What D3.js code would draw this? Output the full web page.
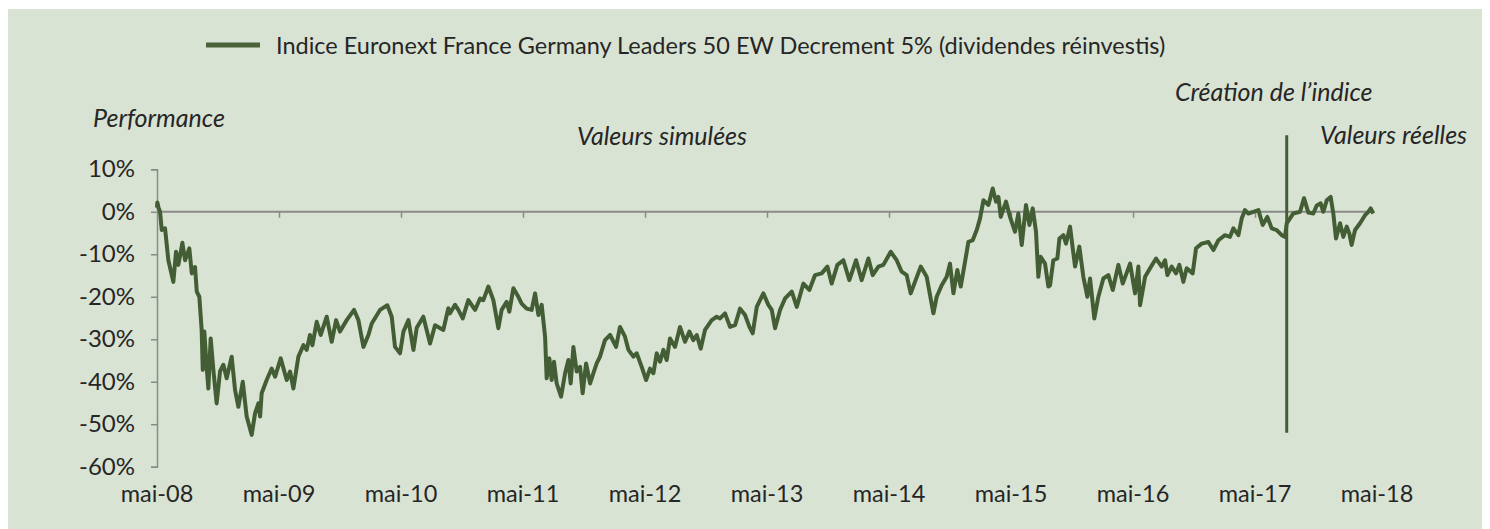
<!DOCTYPE html>
<html>
<head>
<meta charset="utf-8">
<script src="https://cdn.jsdelivr.net/npm/d3@7"></script>
<style>
  body { margin: 0; background: #ffffff; }
  svg { display: block; }
</style>
</head>
<body>
<svg id="perfSvg" width="1490" height="529"></svg>
<script>
// dates as decimal years, values in % performance
var years = [
  2008.333, 2008.336, 2008.345, 2008.358, 2008.372, 2008.399, 2008.426, 2008.467, 2008.489, 2008.508,
  2008.541, 2008.563, 2008.598, 2008.618, 2008.645, 2008.659, 2008.680, 2008.699, 2008.708, 2008.721,
  2008.740, 2008.754, 2008.773, 2008.795, 2008.822, 2008.850, 2008.877, 2008.904, 2008.945, 2008.973,
  2009.000, 2009.036, 2009.068, 2009.109, 2009.137, 2009.164, 2009.178, 2009.191, 2009.232, 2009.273,
  2009.301, 2009.347, 2009.396, 2009.424, 2009.451, 2009.492, 2009.533, 2009.560, 2009.587, 2009.607,
  2009.642, 2009.675, 2009.724, 2009.765, 2009.801, 2009.833, 2009.888, 2009.948, 2009.984, 2010.025,
  2010.066, 2010.093, 2010.161, 2010.221, 2010.257, 2010.284, 2010.325, 2010.353, 2010.394, 2010.435,
  2010.462, 2010.516, 2010.571, 2010.612, 2010.680, 2010.721, 2010.735, 2010.776, 2010.803, 2010.839,
  2010.885, 2010.940, 2010.981, 2011.008, 2011.049, 2011.090, 2011.131, 2011.158, 2011.199, 2011.221,
  2011.254, 2011.295, 2011.322, 2011.363, 2011.404, 2011.432, 2011.459, 2011.486, 2011.514, 2011.527,
  2011.549, 2011.568, 2011.587, 2011.609, 2011.645, 2011.678, 2011.705, 2011.724, 2011.746, 2011.773,
  2011.801, 2011.822, 2011.850, 2011.883, 2011.910, 2011.937, 2011.964, 2012.005, 2012.047, 2012.096,
  2012.128, 2012.169, 2012.197, 2012.238, 2012.265, 2012.306, 2012.342, 2012.374, 2012.402, 2012.429,
  2012.456, 2012.484, 2012.511, 2012.538, 2012.579, 2012.620, 2012.661, 2012.697, 2012.729, 2012.757,
  2012.790, 2012.825, 2012.880, 2012.921, 2012.948, 2012.989, 2013.030, 2013.071, 2013.112, 2013.153,
  2013.189, 2013.216, 2013.249, 2013.303, 2013.344, 2013.372, 2013.399, 2013.440, 2013.481, 2013.536,
  2013.577, 2013.631, 2013.680, 2013.727, 2013.781, 2013.828, 2013.863, 2013.910, 2013.959, 2014.008,
  2014.063, 2014.109, 2014.164, 2014.199, 2014.246, 2014.287, 2014.347, 2014.396, 2014.437, 2014.478,
  2014.511, 2014.546, 2014.593, 2014.642, 2014.697, 2014.724, 2014.765, 2014.806, 2014.833, 2014.861,
  2014.893, 2014.921, 2014.956, 2014.984, 2015.019, 2015.052, 2015.079, 2015.107, 2015.148, 2015.183,
  2015.210, 2015.230, 2015.249, 2015.292, 2015.325, 2015.366, 2015.393, 2015.421, 2015.456, 2015.484,
  2015.511, 2015.538, 2015.557, 2015.576, 2015.612, 2015.639, 2015.653, 2015.680, 2015.713, 2015.730,
  2015.762, 2015.784, 2015.817, 2015.858, 2015.893, 2015.926, 2015.959, 2015.981, 2016.016, 2016.049,
  2016.090, 2016.131, 2016.167, 2016.213, 2016.249, 2016.309, 2016.350, 2016.377, 2016.391, 2016.432,
  2016.473, 2016.522, 2016.568, 2016.596, 2016.615, 2016.650, 2016.686, 2016.713, 2016.746, 2016.773,
  2016.822, 2016.850, 2016.896, 2016.951, 2016.992, 2017.033, 2017.087, 2017.128, 2017.156, 2017.197,
  2017.224, 2017.251, 2017.279, 2017.320, 2017.361, 2017.396, 2017.434, 2017.470, 2017.511, 2017.552,
  2017.579, 2017.593, 2017.647, 2017.702, 2017.735, 2017.770, 2017.811, 2017.839, 2017.871, 2017.893,
  2017.921, 2017.953, 2017.975, 2017.997, 2018.030, 2018.057, 2018.085, 2018.106, 2018.125, 2018.153,
  2018.194, 2018.235, 2018.262, 2018.281, 2018.303
];
var perf = [
  1.0, 2.2, 1.0, 0.0, -4.3, -3.9, -11.4, -16.5, -9.4, -12.5,
  -7.3, -11.4, -8.6, -14.5, -13.0, -18.8, -20.0, -27.8, -37.2, -28.2,
  -36.5, -41.6, -29.8, -37.2, -45.1, -37.5, -36.0, -39.2, -34.1, -42.0,
  -45.9, -40.0, -48.2, -52.5, -47.4, -45.1, -48.2, -42.7, -39.6, -36.9,
  -38.8, -34.5, -39.6, -37.6, -41.6, -34.1, -31.4, -32.5, -29.0, -31.4,
  -25.9, -29.0, -24.7, -30.6, -25.5, -28.2, -25.5, -23.1, -25.5, -31.8,
  -29.0, -26.3, -23.1, -22.0, -24.7, -31.8, -33.3, -28.2, -25.5, -32.5,
  -27.3, -24.7, -31.0, -26.7, -27.8, -22.7, -23.9, -21.9, -23.1, -25.1,
  -20.8, -23.1, -20.4, -20.8, -17.6, -20.8, -27.4, -23.1, -21.2, -23.5,
  -18.0, -20.0, -21.6, -22.8, -23.1, -19.2, -24.3, -21.9, -29.4, -39.2,
  -34.5, -39.6, -35.3, -40.4, -43.5, -38.0, -34.9, -40.4, -31.8, -37.6,
  -36.5, -42.7, -35.7, -40.4, -38.0, -35.7, -34.1, -30.2, -29.0, -31.8,
  -27.1, -29.4, -32.5, -34.1, -33.3, -36.5, -39.6, -36.9, -38.0, -33.3,
  -35.3, -32.5, -34.9, -29.8, -31.8, -27.1, -30.6, -28.2, -30.2, -29.0,
  -32.2, -27.8, -25.5, -24.7, -25.1, -23.9, -27.1, -26.7, -22.8, -24.3,
  -27.1, -28.6, -22.4, -19.2, -21.9, -23.1, -27.4, -23.1, -20.4, -18.8,
  -22.4, -16.9, -18.4, -14.9, -14.5, -12.9, -16.9, -12.5, -11.4, -16.1,
  -11.4, -16.1, -11.0, -14.9, -12.9, -12.5, -9.4, -11.4, -14.1, -14.9,
  -19.2, -16.5, -12.9, -15.3, -23.9, -20.0, -17.3, -15.3, -12.2, -19.2,
  -13.7, -17.6, -11.8, -7.1, -6.7, -4.3, -1.6, 2.7, 1.6, 5.5,
  2.4, 3.5, -1.2, 2.4, -1.2, -4.7, -0.4, -7.8, 1.6, -3.1,
  0.8, -4.7, -15.3, -10.6, -12.2, -17.6, -17.3, -11.4, -11.0, -6.3,
  -5.5, -7.5, -3.5, -12.9, -8.2, -15.3, -20.0, -15.7, -25.1, -20.0,
  -15.7, -14.9, -18.4, -12.5, -16.9, -12.2, -19.2, -12.9, -22.0, -15.3,
  -13.3, -11.0, -12.9, -11.4, -14.9, -12.9, -14.5, -12.5, -16.5, -13.3,
  -14.5, -8.6, -7.5, -7.1, -9.0, -6.7, -5.5, -5.9, -3.9, -5.5,
  -1.6, 0.4, -0.4, 0.0, 0.4, -3.1, -1.2, -3.9, -4.3, -5.5,
  -5.9, -2.7, -0.4, 0.0, 3.2, -0.2, -0.4, 1.5, 2.0, 0.0,
  2.7, 3.5, -0.4, -6.3, -2.7, -5.9, -3.5, -5.1, -7.8, -4.3,
  -2.7, -0.8, 0.0, 0.8, -0.4
];

var seriesName = "Indice Euronext France Germany Leaders 50 EW Decrement 5% (dividendes réinvestis)";
var yTicks = [10, 0, -10, -20, -30, -40, -50, -60];
var xTickLabels = ["mai-08", "mai-09", "mai-10", "mai-11", "mai-12", "mai-13",
                   "mai-14", "mai-15", "mai-16", "mai-17", "mai-18"];
var xTickYears = [2008.333, 2009.333, 2010.333, 2011.333, 2012.333, 2013.333,
                  2014.333, 2015.333, 2016.333, 2017.333, 2018.333];
var creationYear = 2017.593;
var creationSpan = [18, -52];

var lineColor = "#435e35";
var axisColor = "#8a8a8a";
var textColor = "#262626";
var font = "Lato, 'Open Sans', sans-serif";

var svg = d3.select("#perfSvg");

svg.append("rect")
  .attr("x", 8)
  .attr("y", 9)
  .attr("width", 1474)
  .attr("height", 520)
  .attr("fill", "#d9e3d3");

var x = d3.scaleLinear()
  .domain([xTickYears[0], xTickYears[xTickYears.length - 1]])
  .range([157, 1377]);
var y = d3.scaleLinear()
  .domain([-60, 10])
  .range([466.7, 169.3]);

// y axis
var yAxisG = svg.append("g")
  .attr("transform", "translate(157,0)")
  .call(d3.axisLeft(y)
    .tickValues(yTicks)
    .tickSize(6)
    .tickPadding(16)
    .tickFormat(function(d) { return d + "%"; }));
yAxisG.select(".domain").attr("stroke", axisColor).attr("stroke-width", 1.5);
yAxisG.selectAll(".tick line").attr("stroke", axisColor).attr("stroke-width", 1.5);
yAxisG.selectAll(".tick text")
  .attr("fill", textColor)
  .style("font-family", font)
  .style("font-size", "24px");

// horizontal axis line on 0%
var lastYear = years[years.length - 1];
var xAxisG = svg.append("g")
  .attr("transform", "translate(0," + y(0) + ")")
  .call(d3.axisBottom(x)
    .tickValues(xTickYears.filter(function(d) { return d > xTickYears[0] && d <= lastYear; }))
    .tickSize(6)
    .tickFormat(""));
xAxisG.select(".domain").remove();
xAxisG.selectAll(".tick line").attr("stroke", axisColor).attr("stroke-width", 1.5);
xAxisG.append("line")
  .attr("x1", x(xTickYears[0]))
  .attr("x2", x(lastYear))
  .attr("stroke", axisColor)
  .attr("stroke-width", 2);

// x labels at bottom
svg.append("g")
  .selectAll("text")
  .data(xTickYears)
  .enter()
  .append("text")
  .attr("x", function(d) { return x(d); })
  .attr("y", 502)
  .attr("text-anchor", "middle")
  .attr("fill", textColor)
  .style("font-family", font)
  .style("font-size", "23.5px")
  .text(function(d, i) { return xTickLabels[i]; });

// creation marker
svg.append("line")
  .attr("x1", x(creationYear))
  .attr("x2", x(creationYear))
  .attr("y1", y(creationSpan[0]))
  .attr("y2", y(creationSpan[1]))
  .attr("stroke", lineColor)
  .attr("stroke-width", 3);

// series
var lineData = years.map(function(d, i) { return [d, perf[i]]; });
var line = d3.line()
  .x(function(d) { return x(d[0]); })
  .y(function(d) { return y(d[1]); });
svg.append("path")
  .datum(lineData)
  .attr("d", line)
  .attr("fill", "none")
  .attr("stroke", lineColor)
  .attr("stroke-width", 4)
  .attr("stroke-linejoin", "round");

// legend
svg.append("line")
  .attr("x1", 206)
  .attr("x2", 260)
  .attr("y1", 45)
  .attr("y2", 45)
  .attr("stroke", "#4a6339")
  .attr("stroke-width", 5);
svg.append("text")
  .attr("x", 276)
  .attr("y", 53.5)
  .attr("fill", textColor)
  .style("font-family", font)
  .style("font-size", "23.5px")
  .text(seriesName);

// annotations
var notes = [
  { text: "Performance", x: 93, y: 127, anchor: "start" },
  { text: "Valeurs simulées", x: 662, y: 145, anchor: "middle" },
  { text: "Création de l\u2019indice", x: 1175, y: 101, anchor: "start" },
  { text: "Valeurs réelles", x: 1320, y: 144, anchor: "start" }
];
svg.append("g")
  .selectAll("text")
  .data(notes)
  .enter()
  .append("text")
  .attr("x", function(d) { return d.x; })
  .attr("y", function(d) { return d.y; })
  .attr("text-anchor", function(d) { return d.anchor; })
  .attr("fill", textColor)
  .style("font-family", font)
  .style("font-style", "italic")
  .style("font-size", "25px")
  .text(function(d) { return d.text; });
</script>
</body>
</html>
